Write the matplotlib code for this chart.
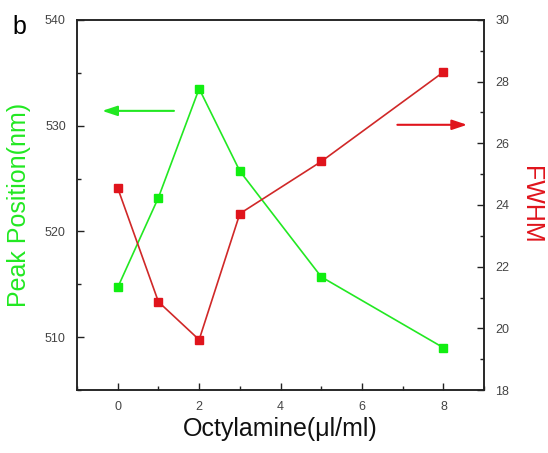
import numpy as np
import matplotlib.pyplot as plt
from matplotlib.ticker import MultipleLocator

plt.rcParams['font.family'] = ['Liberation Sans', 'DejaVu Sans']

# data
octylamine = [0, 1, 2, 3, 5, 8]
peak_pos = [514.7, 523.2, 533.5, 525.7, 515.7, 509.0]
fwhm = [24.55, 20.86, 19.63, 23.72, 25.41, 28.31]

green = '#22e822'
red = '#e0141c'
tick_col = '#444444'

fig = plt.figure(figsize=(5.48, 4.53), dpi=100)
ax = fig.add_axes([0.1405, 0.139, 0.743, 0.817])
ax2 = ax.twinx()

ax.plot(octylamine, peak_pos, color=green, lw=1.2, marker='s', ms=5.5,
        mfc='#11ee11', mec='#11ee11', zorder=3)
ax2.plot(octylamine, fwhm, color='#d02828', lw=1.2, marker='s', ms=5.5,
         mfc=red, mec=red, zorder=3)

ax.set_xlim(-1, 9)
ax.set_ylim(505, 540)
ax2.set_ylim(18, 30)

ax.xaxis.set_major_locator(MultipleLocator(2))
ax.xaxis.set_minor_locator(MultipleLocator(1))
ax.yaxis.set_major_locator(MultipleLocator(10))
ax.yaxis.set_minor_locator(MultipleLocator(5))
ax2.yaxis.set_major_locator(MultipleLocator(2))
ax2.yaxis.set_minor_locator(MultipleLocator(1))

ax.set_yticks([510, 520, 530, 540])
for a in (ax, ax2):
    a.tick_params(which='major', direction='in', length=5, width=1,
                  labelsize=9, labelcolor=tick_col, color='#222222')
    a.tick_params(which='minor', direction='in', length=3, width=1, color='#222222')
    for s in a.spines.values():
        s.set_linewidth(1.1)
        s.set_color('#222222')
ax.tick_params(axis='x', pad=8)
ax.tick_params(axis='y', pad=8)
ax2.tick_params(axis='y', pad=8)

ax.set_xlabel('Octylamine(\u03bcl/ml)', fontsize=18, color='#111111', labelpad=3)
ax.set_ylabel('Peak Position(nm)', fontsize=18, color=green, labelpad=10)
ax2.set_ylabel('FWHM', fontsize=18, color=red, rotation=-90, labelpad=24)

# arrows pointing to the axes
ax.annotate('', xy=(-0.45, 531.4), xytext=(1.45, 531.4),
            arrowprops=dict(arrowstyle='-|>,head_length=0.9,head_width=0.3',
                            color=green, lw=1.5))
ax2.annotate('', xy=(8.65, 26.6), xytext=(6.8, 26.6),
             arrowprops=dict(arrowstyle='-|>,head_length=0.9,head_width=0.3',
                             color=red, lw=1.5))

fig.text(0.022, 0.925, 'b', fontsize=18, color='black')

fig.savefig('out.png', dpi=100)
